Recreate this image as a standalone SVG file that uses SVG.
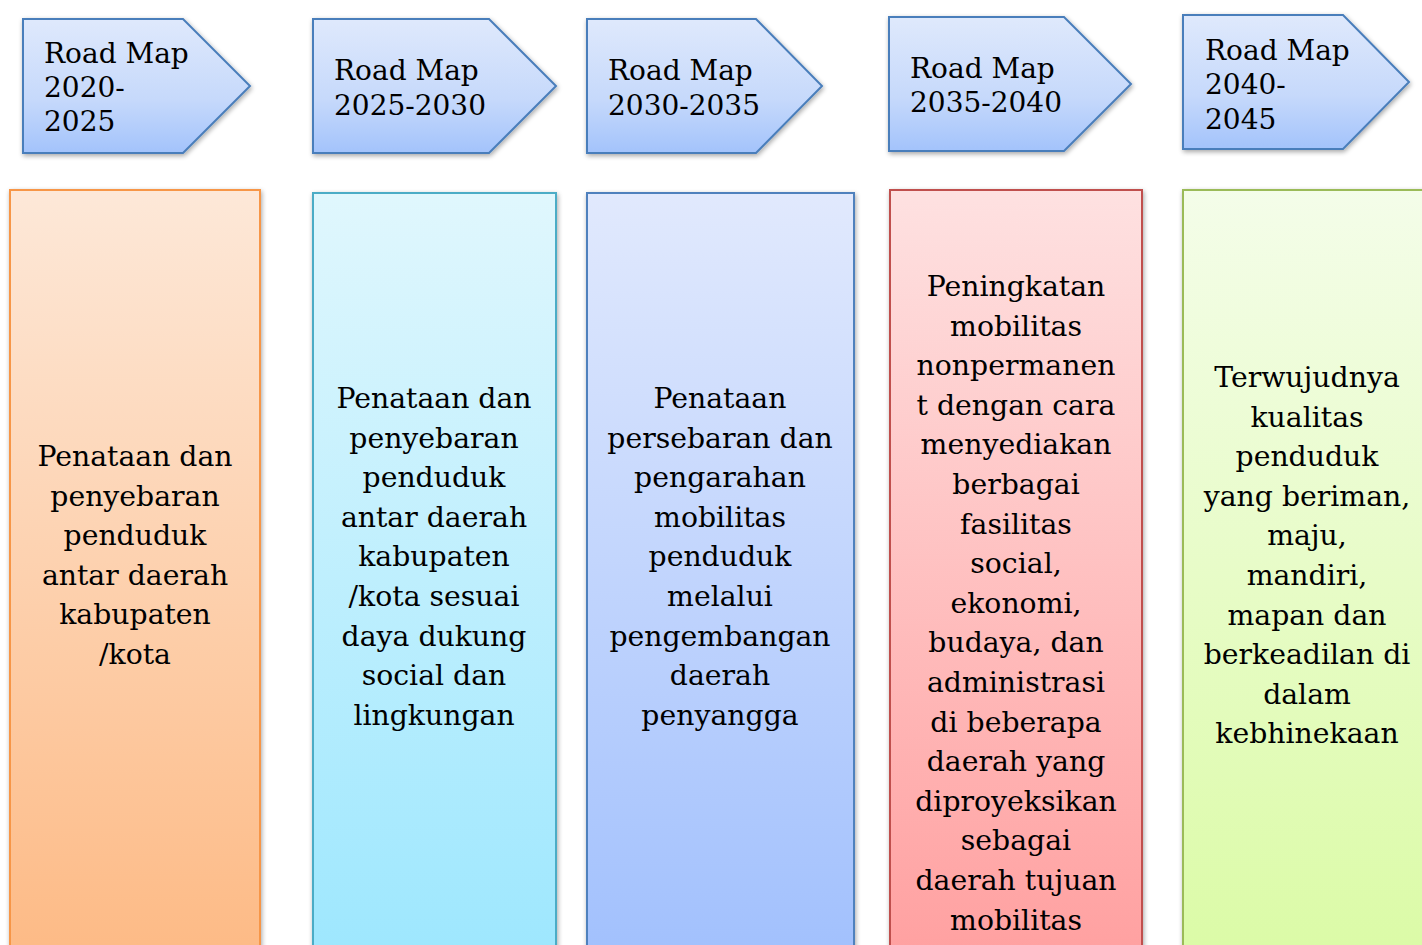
<svg xmlns="http://www.w3.org/2000/svg" width="1422" height="945" viewBox="0 0 1422 945">
<defs>
<linearGradient id="gArrow" x1="0" y1="0" x2="0" y2="1"><stop offset="0" stop-color="#dfe9fc"/><stop offset="0.6" stop-color="#c6d9fb"/><stop offset="1" stop-color="#a3c3fb"/></linearGradient>
<linearGradient id="gOrange" x1="0" y1="0" x2="0" y2="1"><stop offset="0" stop-color="#fde8d8"/><stop offset="1" stop-color="#fdba85"/></linearGradient>
<linearGradient id="gTeal" x1="0" y1="0" x2="0" y2="1"><stop offset="0" stop-color="#e0f7fd"/><stop offset="1" stop-color="#9de7fe"/></linearGradient>
<linearGradient id="gBlue" x1="0" y1="0" x2="0" y2="1"><stop offset="0" stop-color="#e1e9fd"/><stop offset="1" stop-color="#a1c0fd"/></linearGradient>
<linearGradient id="gRed" x1="0" y1="0" x2="0" y2="1"><stop offset="0" stop-color="#fee1e1"/><stop offset="1" stop-color="#ffa0a0"/></linearGradient>
<linearGradient id="gGreen" x1="0" y1="0" x2="0" y2="1"><stop offset="0" stop-color="#f4fde9"/><stop offset="1" stop-color="#dbfba6"/></linearGradient>
<filter id="sh" x="-10%" y="-10%" width="120%" height="120%"><feGaussianBlur in="SourceAlpha" stdDeviation="2.5"/><feOffset dx="1" dy="2" result="b"/><feComponentTransfer><feFuncA type="linear" slope="0.35"/></feComponentTransfer><feMerge><feMergeNode/><feMergeNode in="SourceGraphic"/></feMerge></filter>
</defs>
<style>
.arrow{fill:url(#gArrow);stroke:#4a7ebb;stroke-width:2;filter:url(#sh)}
.box{stroke-width:2;filter:url(#sh)}
.h{font-family:"DejaVu Serif","Liberation Serif",serif;font-size:28px;fill:#000}
.t{font-family:"DejaVu Serif","Liberation Serif",serif;font-size:28.3px;fill:#000;text-anchor:middle}
</style>
<g id="arrow1"><polygon class="arrow" points="23,19 183,19 250,86 183,153 23,153"/>
<text class="h" x="44" y="63">Road Map</text><text class="h" x="44" y="97">2020-</text><text class="h" x="44" y="131">2025</text></g>
<g id="arrow2"><polygon class="arrow" points="313,19 489,19 556,86 489,153 313,153"/>
<text class="h" x="334" y="80">Road Map</text><text class="h" x="334" y="115">2025-2030</text></g>
<g id="arrow3"><polygon class="arrow" points="587,19 756,19 822,86 756,153 587,153"/>
<text class="h" x="608" y="80">Road Map</text><text class="h" x="608" y="115">2030-2035</text></g>
<g id="arrow4"><polygon class="arrow" points="889,17 1064,17 1131,84 1064,151 889,151"/>
<text class="h" x="910" y="78">Road Map</text><text class="h" x="910" y="112">2035-2040</text></g>
<g id="arrow5"><polygon class="arrow" points="1183,15 1343,15 1409,82 1343,149 1183,149"/>
<text class="h" x="1205" y="60">Road Map</text><text class="h" x="1205" y="94">2040-</text><text class="h" x="1205" y="129">2045</text></g>
<g id="box1"><rect class="box" x="10" y="190" width="250" height="770" fill="url(#gOrange)" stroke="#f79646"/>
<text class="t" x="135" y="466">Penataan dan</text><text class="t" x="135" y="506">penyebaran</text><text class="t" x="135" y="545">penduduk</text><text class="t" x="135" y="585">antar daerah</text><text class="t" x="135" y="624">kabupaten</text><text class="t" x="135" y="664">/kota</text></g>
<g id="box2"><rect class="box" x="313" y="193" width="243" height="770" fill="url(#gTeal)" stroke="#4bacc6"/>
<text class="t" x="434" y="408">Penataan dan</text><text class="t" x="434" y="448">penyebaran</text><text class="t" x="434" y="487">penduduk</text><text class="t" x="434" y="527">antar daerah</text><text class="t" x="434" y="566">kabupaten</text><text class="t" x="434" y="606">/kota sesuai</text><text class="t" x="434" y="646">daya dukung</text><text class="t" x="434" y="685">social dan</text><text class="t" x="434" y="725">lingkungan</text></g>
<g id="box3"><rect class="box" x="587" y="193" width="267" height="770" fill="url(#gBlue)" stroke="#4f81bd"/>
<text class="t" x="720" y="408">Penataan</text><text class="t" x="720" y="448">persebaran dan</text><text class="t" x="720" y="487">pengarahan</text><text class="t" x="720" y="527">mobilitas</text><text class="t" x="720" y="566">penduduk</text><text class="t" x="720" y="606">melalui</text><text class="t" x="720" y="646">pengembangan</text><text class="t" x="720" y="685">daerah</text><text class="t" x="720" y="725">penyangga</text></g>
<g id="box4"><rect class="box" x="890" y="190" width="252" height="770" fill="url(#gRed)" stroke="#c0504d"/>
<text class="t" x="1016" y="296">Peningkatan</text><text class="t" x="1016" y="336">mobilitas</text><text class="t" x="1016" y="375">nonpermanen</text><text class="t" x="1016" y="415">t dengan cara</text><text class="t" x="1016" y="454">menyediakan</text><text class="t" x="1016" y="494">berbagai</text><text class="t" x="1016" y="534">fasilitas</text><text class="t" x="1016" y="573">social,</text><text class="t" x="1016" y="613">ekonomi,</text><text class="t" x="1016" y="652">budaya, dan</text><text class="t" x="1016" y="692">administrasi</text><text class="t" x="1016" y="732">di beberapa</text><text class="t" x="1016" y="771">daerah yang</text><text class="t" x="1016" y="811">diproyeksikan</text><text class="t" x="1016" y="850">sebagai</text><text class="t" x="1016" y="890">daerah tujuan</text><text class="t" x="1016" y="930">mobilitas</text></g>
<g id="box5"><rect class="box" x="1183" y="190" width="260" height="770" fill="url(#gGreen)" stroke="#9bbb59"/>
<text class="t" x="1307" y="387">Terwujudnya</text><text class="t" x="1307" y="427">kualitas</text><text class="t" x="1307" y="466">penduduk</text><text class="t" x="1307" y="506">yang beriman,</text><text class="t" x="1307" y="545">maju,</text><text class="t" x="1307" y="585">mandiri,</text><text class="t" x="1307" y="625">mapan dan</text><text class="t" x="1307" y="664">berkeadilan di</text><text class="t" x="1307" y="704">dalam</text><text class="t" x="1307" y="743">kebhinekaan</text></g>
<g id="connectors"/>
</svg>
